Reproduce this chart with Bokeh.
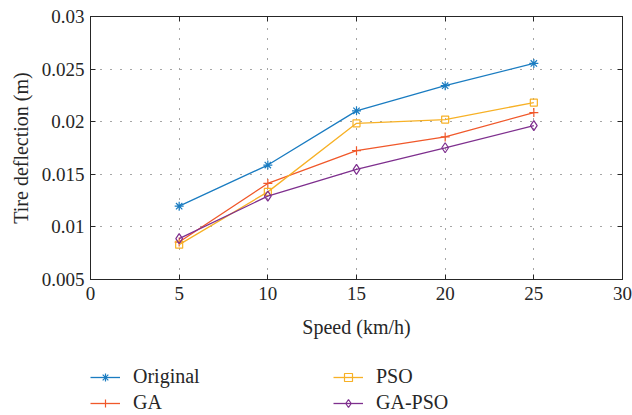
from bokeh.plotting import figure
from bokeh.layouts import column
from bokeh.models import Legend, LegendItem, LinearAxis, FixedTicker, Range1d
from bokeh.embed import file_html
from bokeh.resources import INLINE

speed = [5, 10, 15, 20, 25]
original = [0.01197, 0.01588, 0.02103, 0.02342, 0.02554]
ga = [0.00856, 0.01413, 0.01725, 0.01855, 0.02087]
pso = [0.00831, 0.01333, 0.01985, 0.02020, 0.02182]
ga_pso = [0.00888, 0.01292, 0.01547, 0.01752, 0.01962]

x_ticks = [0, 5, 10, 15, 20, 25, 30]
y_ticks = [0.005, 0.01, 0.015, 0.02, 0.025, 0.03]
y_tick_labels = ["0.005", "0.01", "0.015", "0.02", "0.025", "0.03"]

FONT = "'Liberation Serif', serif"
AXC = "#262626"
TICK_FS = "19px"
LABEL_FS = "20px"

p = figure(width=632, height=350, output_backend="svg", toolbar_location=None,
           x_range=Range1d(0, 30), y_range=Range1d(0.005, 0.03),
           min_border_left=90, min_border_right=10, min_border_top=16,
           min_border_bottom=71)
p.outline_line_color = AXC
p.background_fill_color = "white"
p.border_fill_color = "white"

def style_axis(ax, labels=True):
    ax.axis_line_color = AXC
    ax.major_tick_line_color = AXC
    ax.major_tick_in = 5
    ax.major_tick_out = 0
    ax.minor_tick_line_color = None
    ax.major_label_text_font = FONT
    ax.major_label_text_font_size = TICK_FS
    ax.major_label_text_color = AXC
    ax.axis_label_text_font = FONT
    ax.axis_label_text_font_size = LABEL_FS
    ax.axis_label_text_font_style = "normal"
    ax.axis_label_text_color = AXC
    if not labels:
        ax.major_label_text_font_size = "0px"
        ax.major_label_text_color = None

xax = p.xaxis[0]
yax = p.yaxis[0]
xax.ticker = FixedTicker(ticks=x_ticks)
yax.ticker = FixedTicker(ticks=y_ticks)
yax.major_label_overrides = {t: s for t, s in zip(y_ticks, y_tick_labels)}
style_axis(xax)
style_axis(yax)
xax.axis_label = "Speed (km/h)"
yax.axis_label = "Tire deflection (m)"
xax.major_label_standoff = 7
xax.axis_label_standoff = 13
yax.major_label_standoff = 6
yax.axis_label_standoff = 7

rax = LinearAxis(ticker=FixedTicker(ticks=y_ticks))
tax = LinearAxis(ticker=FixedTicker(ticks=x_ticks))
style_axis(rax, labels=False)
style_axis(tax, labels=False)
p.add_layout(rax, "right")
p.add_layout(tax, "above")

for g in (p.xgrid[0], p.ygrid[0]):
    g.grid_line_color = "#222222"
    g.grid_line_alpha = 0.8
    g.grid_line_dash = "1 9"
    g.grid_line_width = 1
p.xgrid[0].ticker = FixedTicker(ticks=x_ticks)
p.ygrid[0].ticker = FixedTicker(ticks=y_ticks)

series = [
    ("Original", original, "#1a7cc1", "asterisk", 9),
    ("GA", ga, "#f0582a", "cross", 9),
    ("PSO", pso, "#f7b126", "square", 7),
    ("GA-PSO", ga_pso, "#7e2f8e", "diamond", 10),
]

# legend panel below the chart (its renderers hold the same data, kept out of view)
q = figure(width=632, height=65, output_backend="svg", toolbar_location=None,
           x_range=Range1d(100, 101), y_range=Range1d(100, 101),
           min_border=0, min_border_left=0, min_border_right=0,
           min_border_top=0, min_border_bottom=0)
q.axis.visible = False
q.grid.visible = False
q.outline_line_color = None
q.border_fill_color = "white"
q.background_fill_color = "white"

items = {}
for name, vals, col, mk, sz in series:
    p.line(speed, vals, line_color=col, line_width=1.3)
    p.scatter(speed, vals, marker=mk, size=sz,
              line_color=col, fill_color=None, line_width=1.2)
    l1 = q.line(speed, vals, line_color=col, line_width=1.3)
    l2 = q.scatter(speed, vals, marker=mk, size=sz - 2,
                   line_color=col, fill_color=None, line_width=1.2)
    items[name] = LegendItem(label=name, renderers=[l1, l2])

def make_legend(names, loc):
    return Legend(items=[items[n] for n in names], location=loc,
                  orientation="vertical", padding=0, margin=0, spacing=3,
                  glyph_width=30, glyph_height=20, label_height=20,
                  label_standoff=13, border_line_color=None,
                  background_fill_alpha=0,
                  label_text_font=FONT, label_text_font_size=LABEL_FS,
                  label_text_color=AXC)

q.add_layout(make_legend(["Original", "GA"], (0, 1)), "center")
q.add_layout(make_legend(["PSO", "GA-PSO"], (243, 1)), "center")

layout = column(p, q, spacing=0)
open("out.html", "w").write(file_html(layout, INLINE))
